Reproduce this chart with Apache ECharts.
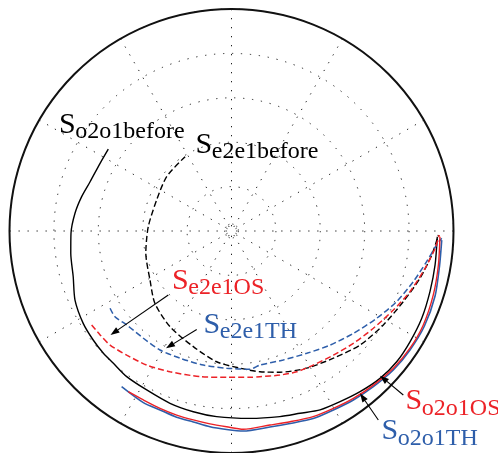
<!DOCTYPE html>
<html>
<head>
<meta charset="utf-8">
<script src="https://cdn.jsdelivr.net/npm/echarts@6/dist/echarts.min.js"></script>
<style>html,body{margin:0;padding:0;background:#fff;}#c{width:498px;height:453px;}</style>
</head>
<body>
<div id="c"></div>
<script>
// Normalized Stokes-plane values [S1, S2]
const So2o1before = [[-0.555,0.369],[-0.592,0.305],[-0.637,0.222],[-0.675,0.155],[-0.705,0.080],[-0.723,-0.010],[-0.724,-0.100],[-0.713,-0.206],[-0.705,-0.311],[-0.668,-0.416],[-0.623,-0.491],[-0.577,-0.551],[-0.532,-0.596],[-0.472,-0.656],[-0.382,-0.716],[-0.277,-0.776],[-0.172,-0.814],[-0.067,-0.836],[0.083,-0.844],[0.218,-0.836],[0.309,-0.821],[0.399,-0.806],[0.489,-0.769],[0.579,-0.724],[0.669,-0.664],[0.744,-0.589],[0.804,-0.499],[0.857,-0.393],[0.894,-0.273],[0.917,-0.153],[0.927,-0.026]];
const Se2e1before = [[-0.209,0.335],[-0.292,0.245],[-0.337,0.140],[-0.375,0.019],[-0.386,-0.100],[-0.367,-0.221],[-0.345,-0.326],[-0.277,-0.431],[-0.172,-0.521],[-0.067,-0.589],[0.038,-0.618],[0.128,-0.634],[0.218,-0.636],[0.339,-0.618],[0.459,-0.573],[0.579,-0.514],[0.684,-0.423],[0.774,-0.318],[0.849,-0.213],[0.902,-0.108],[0.932,-0.018]];
const Se2e1OS = [[-0.630,-0.423],[-0.592,-0.468],[-0.547,-0.514],[-0.472,-0.559],[-0.382,-0.604],[-0.277,-0.634],[-0.142,-0.656],[-0.022,-0.659],[0.083,-0.659],[0.128,-0.656],[0.218,-0.649],[0.294,-0.634],[0.368,-0.604],[0.459,-0.559],[0.549,-0.506],[0.639,-0.438],[0.729,-0.356],[0.804,-0.273],[0.872,-0.168],[0.917,-0.078],[0.936,-0.018]];
const Se2e1TH = [[-0.547,-0.348],[-0.525,-0.386],[-0.472,-0.423],[-0.397,-0.483],[-0.322,-0.536],[-0.232,-0.573],[-0.127,-0.604],[-0.022,-0.618],[0.083,-0.623],[0.128,-0.604],[0.233,-0.581],[0.339,-0.551],[0.444,-0.514],[0.549,-0.461],[0.654,-0.393],[0.744,-0.318],[0.819,-0.228],[0.879,-0.138],[0.924,-0.063],[0.947,-0.033]];
const So2o1OS = [[-0.465,-0.724],[-0.397,-0.761],[-0.322,-0.799],[-0.247,-0.829],[-0.172,-0.851],[-0.097,-0.869],[-0.022,-0.882],[0.053,-0.893],[0.173,-0.874],[0.264,-0.859],[0.368,-0.836],[0.459,-0.799],[0.549,-0.754],[0.639,-0.694],[0.729,-0.618],[0.804,-0.528],[0.864,-0.423],[0.909,-0.288],[0.932,-0.153],[0.939,-0.026]];
const So2o1TH = [[-0.495,-0.701],[-0.397,-0.773],[-0.322,-0.806],[-0.247,-0.839],[-0.172,-0.860],[-0.097,-0.882],[-0.022,-0.894],[0.053,-0.901],[0.173,-0.883],[0.264,-0.867],[0.368,-0.845],[0.459,-0.806],[0.549,-0.761],[0.639,-0.701],[0.729,-0.626],[0.804,-0.536],[0.869,-0.428],[0.917,-0.293],[0.937,-0.158],[0.947,-0.041]];

const RED = '#ec2227', BLUE = '#2e5eaa', BLACK = '#000';

function toPolar(arr) {
  return arr.map(function (p) {
    let a = Math.atan2(p[1], p[0]) * 180 / Math.PI;
    if (a < 0) a += 360;
    return [Math.hypot(p[0], p[1]), a];
  });
}

function mkSeries(name, arr, color, dashed, width) {
  return {
    name: name, type: 'line', coordinateSystem: 'polar',
    data: toPolar(arr), showSymbol: false, smooth: 0.25, silent: true,
    lineStyle: { color: color, width: width, type: dashed ? [6, 3] : 'solid' },
    z: 3
  };
}

const CX = 231.5, CY = 231, R = 222;
const FS = 30, FSUB = 24, FAMILY = 'Liberation Serif';

function label(x, base, sub, color) {
  return [
    { type: 'text', x: x, y: base - 0.3375 * FS, silent: true, z: 10,
      style: { text: 'S', fontSize: FS, fontFamily: FAMILY, fill: color, verticalAlign: 'middle', align: 'left' } },
    { type: 'text', x: x + 16.3, y: base + 5 - 0.3375 * FSUB, silent: true, z: 10,
      style: { text: sub, fontSize: FSUB, fontFamily: FAMILY, fill: color, verticalAlign: 'middle', align: 'left' } }
  ];
}

function arrow(x1, y1, x2, y2) {
  const dx = x2 - x1, dy = y2 - y1, L = Math.hypot(dx, dy);
  const ux = dx / L, uy = dy / L, hl = 9, hw = 3.2;
  const bx = x2 - ux * hl, by = y2 - uy * hl;
  return [
    { type: 'line', silent: true, z: 9, shape: { x1: x1, y1: y1, x2: bx, y2: by }, style: { stroke: '#000', lineWidth: 1.1 } },
    { type: 'polygon', silent: true, z: 9, shape: { points: [[x2, y2], [bx - uy * hw, by + ux * hw], [bx + uy * hw, by - ux * hw]] }, style: { fill: '#000' } }
  ];
}

const DOT = [1.3, 7.7];
const chart = echarts.init(document.getElementById('c'), null, { renderer: 'canvas' });
chart.setOption({
  animation: false,
  backgroundColor: '#fff',
  polar: { center: [CX, CY], radius: R },
  angleAxis: {
    type: 'value', min: 0, max: 360, interval: 30, startAngle: 0, clockwise: false,
    axisLine: { show: true, lineStyle: { color: '#111', width: 2 } },
    axisTick: { show: false }, axisLabel: { show: false },
    splitLine: { show: true, lineStyle: { color: '#222', width: 1, type: DOT } }
  },
  radiusAxis: {
    type: 'value', min: 0, max: 1, interval: 0.2,
    axisLine: { show: false }, axisTick: { show: false }, axisLabel: { show: false },
    splitLine: { show: true, lineStyle: { color: '#222', width: 1, type: DOT } }
  },
  series: [
    mkSeries('So2o1before', So2o1before, BLACK, false, 1.4),
    mkSeries('Se2e1before', Se2e1before, BLACK, true, 1.4),
    mkSeries('Se2e1TH', Se2e1TH, BLUE, true, 1.5),
    mkSeries('Se2e1OS', Se2e1OS, RED, true, 1.5),
    mkSeries('So2o1TH', So2o1TH, BLUE, false, 1.6),
    mkSeries('So2o1OS', So2o1OS, RED, false, 1.4)
  ],
  graphic: [].concat(
    [{ type: 'circle', silent: true, shape: { cx: CX, cy: CY, r: 7 }, style: { fill: 'none', stroke: '#333', lineWidth: 1, lineDash: [1.2, 3] } }],
    label(59, 135, 'o2o1before', BLACK),
    label(195.5, 155, 'e2e1before', BLACK),
    label(172, 291, 'e2e1OS', RED),
    label(203.5, 335, 'e2e1TH', BLUE),
    label(405.5, 411.5, 'o2o1OS', RED),
    label(381.5, 441.5, 'o2o1TH', BLUE),
    arrow(168.3, 295, 110.5, 335),
    arrow(196.7, 329.5, 166, 348.3),
    arrow(403.3, 395, 380, 375.7),
    arrow(378.3, 420, 360, 393.3)
  )
});
</script>
</body>
</html>
